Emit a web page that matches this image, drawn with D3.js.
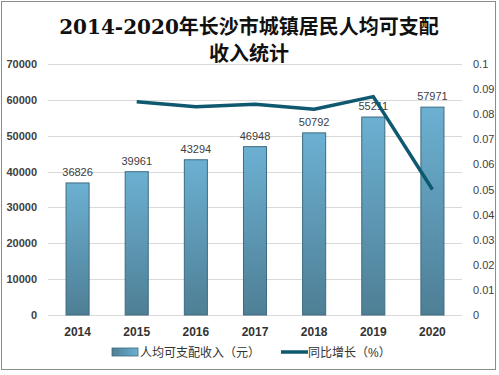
<!DOCTYPE html>
<html>
<head>
<meta charset="utf-8">
<script src="https://cdn.jsdelivr.net/npm/d3@7"></script>
<style>
  body { margin: 0; background: #fff; }
</style>
</head>
<body>
<script>
// 长沙市城镇居民人均可支配收入
let years = ['2014', '2015', '2016', '2017', '2018', '2019', '2020']
let income = [36826, 39961, 43294, 46948, 50792, 55211, 57971]
let growth = [null, 0.085, 0.083, 0.084, 0.082, 0.087, 0.05]
let leftTicks = [0, 10000, 20000, 30000, 40000, 50000, 60000, 70000]
let rightTicks = [0, 0.01, 0.02, 0.03, 0.04, 0.05, 0.06, 0.07, 0.08, 0.09, 0.1]

let W = 499, H = 375
let margin = { left: 48, right: 37, top: 64, bottom: 60 }
let sans = '"Liberation Sans", "Noto Sans CJK SC", sans-serif'

let svg = d3.select('body').append('svg')
  .attr('width', W).attr('height', H)
  .style('font-family', sans)

// 渐变
let defs = svg.append('defs')
let grad = defs.append('linearGradient').attr('id', 'barGrad')
  .attr('x1', 0).attr('y1', 0).attr('x2', 0).attr('y2', 1)
grad.append('stop').attr('offset', '0%').attr('stop-color', '#6cb0d2')
grad.append('stop').attr('offset', '100%').attr('stop-color', '#4e7f95')
let gradH = defs.append('linearGradient').attr('id', 'barGradH')
  .attr('x1', 0).attr('y1', 0).attr('x2', 1).attr('y2', 0)
gradH.append('stop').attr('offset', '0%').attr('stop-color', '#4e7f95')
gradH.append('stop').attr('offset', '100%').attr('stop-color', '#6cb0d2')

// 外框
svg.append('rect')
  .attr('x', 1.5).attr('y', 1.5).attr('width', 494).attr('height', 368)
  .attr('fill', '#fff').attr('stroke', '#8c8c8c').attr('stroke-width', 1)

// 标题
let title = svg.append('text')
  .attr('text-anchor', 'middle')
  .style('font-family', '"DejaVu Serif", "Noto Sans CJK SC", serif')
  .attr('font-size', 20).attr('font-weight', 'bold').attr('fill', '#111')
title.append('tspan').attr('x', 249).attr('y', 34).text('2014-2020年长沙市城镇居民人均可支配')
title.append('tspan').attr('x', 249).attr('y', 61).text('收入统计')

// 比例尺
let x = d3.scaleBand().domain(years).range([margin.left, W - margin.right]).paddingInner(0.61).paddingOuter(0.305)
let y = d3.scaleLinear().domain([0, 70000]).range([H - margin.bottom, margin.top])
let y2 = d3.scaleLinear().domain([0, 0.1]).range([H - margin.bottom, margin.top])

// 网格线
svg.append('g').selectAll('line').data(leftTicks).join('line')
  .attr('x1', margin.left).attr('x2', W - margin.right)
  .attr('y1', d => Math.round(y(d)) + 0.5).attr('y2', d => Math.round(y(d)) + 0.5)
  .attr('stroke', '#d9d9d9').attr('stroke-width', 1)

// 左轴
let yAxis = svg.append('g')
  .attr('transform', 'translate(' + (margin.left - 11) + ',0)')
  .call(d3.axisLeft(y).tickValues(leftTicks).tickSize(0).tickPadding(0).tickFormat(d3.format('d')))
yAxis.select('.domain').remove()
yAxis.selectAll('text').attr('font-size', 11).attr('fill', '#404040')
  .style('font-family', sans).attr('font-weight', 'bold')

// 右轴
let y2Axis = svg.append('g')
  .attr('transform', 'translate(' + (W - margin.right + 11) + ',0)')
  .call(d3.axisRight(y2).tickValues(rightTicks).tickSize(0).tickPadding(0).tickFormat(d3.format('~g')))
y2Axis.select('.domain').remove()
y2Axis.selectAll('text').attr('font-size', 11).attr('fill', '#404040').style('font-family', sans)

// x轴
let xAxis = svg.append('g')
  .attr('transform', 'translate(0,' + (H - margin.bottom) + ')')
  .call(d3.axisBottom(x).tickSize(0).tickPadding(12))
xAxis.select('.domain').remove()
xAxis.selectAll('text').attr('font-size', 12).attr('font-weight', 'bold').attr('fill', '#333')
  .style('font-family', sans)

// 柱子
svg.append('g').selectAll('rect').data(income).join('rect')
  .attr('x', (d, i) => x(years[i]))
  .attr('y', d => y(d))
  .attr('width', x.bandwidth())
  .attr('height', d => y(0) - y(d))
  .attr('fill', 'url(#barGrad)')
  .attr('stroke', '#3d6b80').attr('stroke-width', 1)

// 数据标签
svg.append('g').selectAll('text').data(income).join('text')
  .attr('x', (d, i) => x(years[i]) + x.bandwidth() / 2)
  .attr('y', d => y(d) - 7)
  .attr('text-anchor', 'middle')
  .attr('font-size', 11).attr('fill', '#404040')
  .text(d => d)

// 折线
let line = d3.line()
  .defined(d => d != null)
  .x((d, i) => x(years[i]) + x.bandwidth() / 2)
  .y(d => y2(d))
svg.append('path')
  .attr('d', line(growth))
  .attr('fill', 'none')
  .attr('stroke', '#0e5870')
  .attr('stroke-width', 3.5)
  .attr('stroke-linejoin', 'round')

// 图例
let lg = svg.append('g').attr('transform', 'translate(0,352)')
lg.append('rect').attr('x', 112).attr('y', -4).attr('width', 26).attr('height', 8)
  .attr('fill', 'url(#barGradH)').attr('stroke', '#3d6b80').attr('stroke-width', 0.8)
lg.append('text').attr('x', 140).attr('y', 4.5).attr('font-size', 12).attr('fill', '#333')
  .text('人均可支配收入（元）')
lg.append('line').attr('x1', 281).attr('x2', 308).attr('y1', 0).attr('y2', 0)
  .attr('stroke', '#0e5870').attr('stroke-width', 3.5)
lg.append('text').attr('x', 308).attr('y', 4.5).attr('font-size', 12).attr('fill', '#333')
  .text('同比增长（%）')
</script>
</body>
</html>
